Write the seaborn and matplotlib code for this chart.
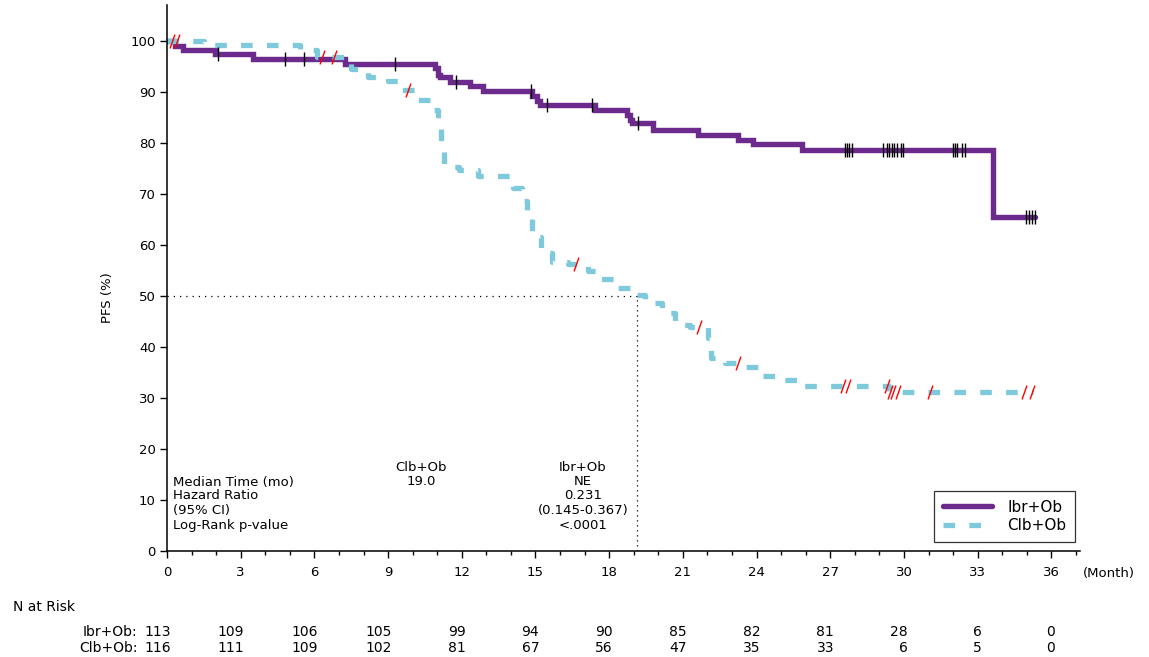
import numpy as np
import pandas as pd
import matplotlib
matplotlib.use("Agg")
import matplotlib.pyplot as plt
import seaborn as sns
from matplotlib.path import Path
from matplotlib.ticker import MultipleLocator
import matplotlib.transforms as mtransforms

# ---------------- data ----------------
ibr_time = [0, 0.33, 0.65, 1.95, 3.5, 7.24, 10.91, 11.03, 11.11, 11.52, 12.33, 12.86,
            14.86, 15.06, 15.18, 17.42, 18.72, 18.84, 18.92, 19.78, 21.61, 23.24,
            23.85, 25.84, 33.62, 35.33]
ibr_pfs = [100, 99, 98.1, 97.3, 96.4, 95.5, 94.6, 93.3, 92.9, 92.0, 91.2, 90.2,
           89.1, 88.1, 87.4, 86.4, 85.5, 84.5, 83.8, 82.6, 81.6, 80.6,
           79.8, 78.6, 65.5, 65.5]
ibr_censor = [2.06, 4.8, 5.59, 9.28, 11.76, 14.81, 15.45, 17.3, 19.16,
              27.6, 27.68, 27.76, 27.9, 29.13, 29.32, 29.4, 29.5, 29.59, 29.7,
              29.87, 29.97, 32.0, 32.08, 32.16, 32.34, 32.48,
              34.96, 35.1, 35.2, 35.33]

clb_time = [0, 1.5, 5.4, 6.1, 7.5, 8.2, 9.0, 9.5, 10.2, 10.8, 11.03, 11.15, 11.27,
            11.9, 12.66, 14.08, 14.45, 14.65, 14.86, 15.22, 15.67, 16.32, 17.13,
            17.62, 18.23, 18.97, 19.45, 20.15, 20.68, 21.29, 22.02, 22.14, 22.71,
            23.52, 24.22, 24.87, 25.68, 29.39, 35.25]
clb_pfs = [100, 99.1, 98.2, 96.8, 94.5, 92.9, 92.2, 90.4, 88.4, 86.5, 82.9, 79.2, 75.3,
           74.7, 73.4, 71.2, 68.5, 65.1, 61.6, 58.4, 56.7, 56.3, 54.8,
           53.3, 51.6, 50.2, 48.7, 46.7, 44.3, 43.9, 41.8, 37.8, 36.9,
           36.1, 34.3, 33.5, 32.4, 31.2, 31.2]
clb_censor = [0.19, 0.39, 6.31, 6.8, 9.8, 16.65, 21.65, 23.24, 27.5, 27.7, 29.3,
              29.42, 29.55, 29.75, 31.05, 34.9, 35.2]

median_clb = 19.13
risk_times = [0, 3, 6, 9, 12, 15, 18, 21, 24, 27, 30, 33, 36]
risk_ibr = [113, 109, 106, 105, 99, 94, 90, 85, 82, 81, 28, 6, 0]
risk_clb = [116, 111, 109, 102, 81, 67, 56, 47, 35, 33, 6, 5, 0]

stats_labels = ["Median Time (mo)", "Hazard Ratio", "(95% CI)", "Log-Rank p-value"]
clb_stats = ["Clb+Ob", "19.0"]
ibr_stats = ["Ibr+Ob", "NE", "0.231", "(0.145-0.367)", "<.0001"]

PURPLE = "#6B2A8C"
CYAN = "#7ECADC"


def step_value(times, vals, t):
    idx = np.searchsorted(np.asarray(times), t, side="right") - 1
    return np.asarray(vals)[np.clip(idx, 0, len(vals) - 1)]


ibr_df = pd.DataFrame({"time": ibr_time, "pfs": ibr_pfs})
clb_df = pd.DataFrame({"time": clb_time, "pfs": clb_pfs})
ibr_c = pd.DataFrame({"time": ibr_censor,
                      "pfs": [step_value(ibr_time, ibr_pfs, t) for t in ibr_censor]})
clb_c = pd.DataFrame({"time": clb_censor,
                      "pfs": [step_value(clb_time, clb_pfs, t) for t in clb_censor]})

# ---------------- figure ----------------
sns.set_theme(style="white")
plt.rcParams["font.family"] = ["DejaVu Sans"]
plt.rcParams["text.color"] = "black"
plt.rcParams["axes.labelcolor"] = "black"
plt.rcParams["xtick.color"] = "black"
plt.rcParams["ytick.color"] = "black"

fig = plt.figure(figsize=(11.49, 6.57), dpi=100)
ax = fig.add_axes([0.1453, 0.1613, 0.7946, 0.8311])

sns.lineplot(data=ibr_df, x="time", y="pfs", ax=ax, estimator=None, sort=False,
             drawstyle="steps-post", color=PURPLE, linewidth=3.9,
             label="Ibr+Ob", solid_joinstyle="miter")
sns.lineplot(data=clb_df, x="time", y="pfs", ax=ax, estimator=None, sort=False,
             drawstyle="steps-post", color=CYAN, linewidth=3.8,
             dashes=False, label="Clb+Ob", dash_capstyle="butt")
ax.lines[1].set_dashes([2.2, 2.7])

slash = Path([(-0.35, -1.0), (0.35, 1.0)])
sns.lineplot(data=ibr_c, x="time", y="pfs", ax=ax, estimator=None, sort=False,
             linestyle="none", marker="|", markersize=10, color="black",
             markeredgecolor="black", markeredgewidth=1.0, legend=False)
sns.lineplot(data=clb_c, x="time", y="pfs", ax=ax, estimator=None, sort=False,
             linestyle="none", marker=slash, markersize=10, color="red",
             markeredgecolor="red", markeredgewidth=1.0, legend=False)

# median reference lines
ax.plot([0, median_clb], [50, 50], color="black", linestyle=(0, (1, 4)), linewidth=0.9)
ax.plot([median_clb, median_clb], [0, 50], color="black", linestyle=(0, (1, 3)), linewidth=0.9)

ax.set_xlim(0, 37.16)
ax.set_ylim(0, 107)
ax.xaxis.set_major_locator(MultipleLocator(3))
ax.xaxis.set_minor_locator(MultipleLocator(1))
ax.yaxis.set_major_locator(MultipleLocator(10))
ax.set_xticks(risk_times)
ax.set_xticklabels([str(t) for t in risk_times])
ax.tick_params(axis="both", which="major", direction="out", length=5, width=1,
               colors="black", labelsize=9.5)
ax.tick_params(axis="x", which="minor", direction="out", length=3, width=1,
               colors="black", bottom=True)
ax.tick_params(axis="x", which="major", pad=6, bottom=True)
ax.tick_params(axis="y", which="major", pad=3, left=True)
for s in ["top", "right"]:
    ax.spines[s].set_visible(False)
for s in ["left", "bottom"]:
    ax.spines[s].set_color("black")
    ax.spines[s].set_linewidth(1.1)
ax.set_xlabel("")
ax.set_ylabel("")

fig.text(108 / 1149, 1 - 298 / 657, "PFS (%)", rotation=90, ha="center", va="center",
         fontsize=9.5, color="black")
fig.text(1083 / 1149, 1 - 574 / 657, "(Month)", ha="left", va="center", fontsize=9.5,
         color="black")

# legend
leg = ax.legend(loc="lower right", bbox_to_anchor=(0.995, 0.0165), borderaxespad=0,
                frameon=True, fancybox=False, fontsize=11, handlelength=3.2,
                borderpad=0.6, labelspacing=0.2, handletextpad=1.0)
leg.get_frame().set_edgecolor("black")
leg.get_frame().set_linewidth(0.9)
for t in leg.get_texts():
    t.set_color("black")

# statistics block
y_rows = [13.5, 10.8, 7.9, 5.0]
for lab, yv in zip(stats_labels, y_rows):
    ax.text(0.25, yv, lab, ha="left", va="center", fontsize=9.5, color="black")
for txt, yv in zip(clb_stats, [16.4, 13.7]):
    ax.text(10.34, yv, txt, ha="center", va="center", fontsize=9.5, color="black")
for txt, yv in zip(ibr_stats, [16.4, 13.7, 10.8, 7.9, 5.0]):
    ax.text(16.93, yv, txt, ha="center", va="center", fontsize=9.5, color="black")

# number at risk table
trans = mtransforms.blended_transform_factory(ax.transData, fig.transFigure)
fig.text(13 / 1149, 1 - 607 / 657, "N at Risk", ha="left", va="center", fontsize=10,
         color="black")
ax.text(-1.2, 1 - 632 / 657, "Ibr+Ob:", transform=trans, ha="right", va="center",
        fontsize=10, clip_on=False, color="black")
ax.text(-1.2, 1 - 648 / 657, "Clb+Ob:", transform=trans, ha="right", va="center",
        fontsize=10, clip_on=False, color="black")
for t, n1, n2 in zip(risk_times, risk_ibr, risk_clb):
    ax.text(t + 0.15, 1 - 632 / 657, str(n1), transform=trans, ha="right", va="center",
            fontsize=10, clip_on=False, color="black")
    ax.text(t + 0.15, 1 - 648 / 657, str(n2), transform=trans, ha="right", va="center",
            fontsize=10, clip_on=False, color="black")

fig.savefig("out.png", dpi=100)
